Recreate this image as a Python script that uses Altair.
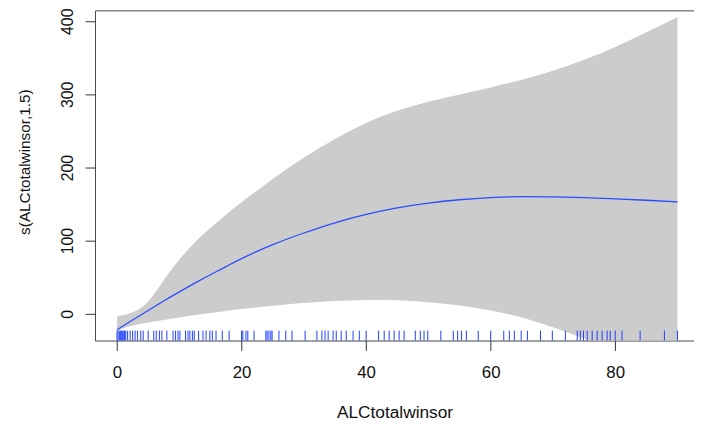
import altair as alt
import pandas as pd

# Smooth term grid
xs = [0, 2.5, 5, 7.5, 10, 12.5, 15, 17.5, 20, 25, 30, 35, 40, 45, 50, 55, 60, 65, 70, 75, 80, 85, 90]
fit = [-22, -8.5, 4.5, 17.5, 30, 42, 53.5, 64.5, 75.5, 94.5, 110.5, 124.5, 136, 145, 151.5, 156, 159, 160.3, 160, 159, 157.3, 155.3, 153]
upper = [-3.6, 2, 17, 46, 74, 98, 117.5, 135.5, 152.5, 184.5, 213.5, 239, 261, 277.5, 290, 300, 309.5, 320, 332.5, 347.5, 365, 385, 406]
lower = [-23, -16, -12, -8.5, -5, -1.7, 1.3, 4, 6.5, 11, 14.7, 17.5, 19, 18.5, 16, 11.3, 4.5, -5, -18.5, -34, -51, -70, -90]

# Rug positions
rug = [0, 0.16, 0.37, 0.53, 0.69, 0.85, 1.0, 1.2, 1.4, 1.7, 2.1, 2.5, 2.9, 3.3, 3.8, 4.2,
       5.0, 5.9, 6.3, 6.8, 7.2, 8.0, 9.0, 9.4, 9.8, 10.1, 11.0, 11.4, 11.7, 12.1, 12.4,
       13.1, 13.8, 14.3, 14.9, 15.3, 15.9, 16.9, 18.0, 20.0, 20.2, 20.7, 21.0, 22.0,
       23.9, 24.1, 24.4, 24.7, 24.9, 26.0, 27.1, 28.1, 30.2, 32.1, 32.9, 33.4, 33.9,
       34.7, 35.2, 36.0, 36.8, 37.9, 38.9, 40.0, 42.0, 42.9, 43.7, 44.5, 45.3, 46.1,
       47.9, 48.7, 49.3, 49.9, 52.0, 54.0, 54.7, 55.3, 56.1, 58.0, 60.0, 62.1, 63.0,
       63.8, 64.9, 65.9, 68.0, 69.9, 72.0, 73.9, 74.4, 74.9, 75.5, 76.3, 77.1, 77.9,
       78.7, 79.2, 80.0, 81.1, 84.0, 87.9, 90.0]

x_ticks = [0, 20, 40, 60, 80]
y_ticks = [0, 100, 200, 300, 400]

W, H = 606, 334

df = pd.DataFrame({"x": xs, "fit": fit, "upper": upper, "lower": lower})
df_rug = pd.DataFrame({"x": rug})

xscale = alt.Scale(domain=[-3.54, 92.65], nice=False, zero=False)
yscale = alt.Scale(domain=[-36.5, 414.9], nice=False, zero=False)

xaxis = alt.Axis(
    title="ALCtotalwinsor", values=x_ticks, grid=False, domain=False,
    tickSize=10, tickColor="#333", labelPadding=14, labelFontSize=17,
    labelColor="#111", labelFont="Liberation Sans", labelBaseline="top",
    titleFont="Liberation Sans", titleFontSize=17.5, titleFontWeight="normal",
    titleColor="#111", titleBaseline="alphabetic", titleY=78,
)
yaxis = alt.Axis(
    title="s(ALCtotalwinsor,1.5)", values=y_ticks, grid=False, domain=False,
    tickSize=10, tickColor="#333", labelAngle=270, labelAlign="center",
    labelBaseline="alphabetic", labelPadding=13, labelFontSize=16,
    labelColor="#111", labelFont="Liberation Sans",
    titleFont="Liberation Sans", titleFontSize=15.5, titleFontWeight="normal",
    titleColor="#111", titleAngle=270, titleBaseline="alphabetic",
    titleAlign="center", titleX=-66, titleY=153,
)

band = alt.Chart(df).mark_area(color="#CCCCCC", opacity=1, clip=True,
                               interpolate="natural").encode(
    x=alt.X("x:Q", scale=xscale, axis=xaxis),
    y=alt.Y("lower:Q", scale=yscale, axis=yaxis),
    y2="upper:Q",
)

line = alt.Chart(df).mark_line(color="#2a4cff", strokeWidth=1.3, clip=True,
                               interpolate="natural").encode(
    x=alt.X("x:Q", scale=xscale, axis=xaxis),
    y=alt.Y("fit:Q", scale=yscale, axis=yaxis),
)

rugs = alt.Chart(df_rug).mark_rule(color="#1f3fff", opacity=1, strokeWidth=1).encode(
    x=alt.X("x:Q", scale=xscale, axis=xaxis),
    y=alt.value(H - 10),
    y2=alt.value(H),
)

chart = alt.layer(band, line, rugs).properties(
    width=W, height=H,
    background="white",
    autosize=alt.AutoSizeParams(type="none"),
    padding={"left": 88, "top": 0, "right": 0, "bottom": 79},
).configure_view(stroke="#444", strokeWidth=1)

chart.save("out.html", embed_options={"renderer": "svg", "actions": False})
